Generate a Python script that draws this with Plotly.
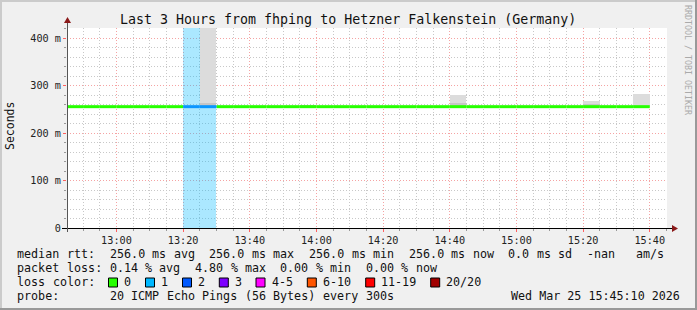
import re
import plotly.graph_objects as go
import pandas as pd

# ---------------- data ----------------
DAY = "2026-03-25 "
step_times = ["12:45", "12:50", "12:55", "13:00", "13:05", "13:10", "13:15",
              "13:20", "13:25", "13:30", "13:35", "13:40", "13:45", "13:50",
              "13:55", "14:00", "14:05", "14:10", "14:15", "14:20", "14:25",
              "14:30", "14:35", "14:40", "14:45", "14:50", "14:55", "15:00",
              "15:05", "15:10", "15:15", "15:20", "15:25", "15:30", "15:35"]
median_ms = [256.0, 256.0, 256.0, 256.0, 256.0, 256.0, 256.0,
             256.0, 256.0, 256.0, 256.0, 256.0, 256.0, 256.0,
             256.0, 256.0, 256.0, 256.0, 256.0, 256.0, 256.0,
             256.0, 256.0, 256.0, 256.0, 256.0, 256.0, 256.0,
             256.0, 256.0, 256.0, 256.0, 256.0, 256.0, 256.0]
loss_pings = [0, 0, 0, 0, 0, 0, 0,
              1, 1, 0, 0, 0, 0, 0,
              0, 0, 0, 0, 0, 0, 0,
              0, 0, 0, 0, 0, 0, 0,
              0, 0, 0, 0, 0, 0, 0]

# smoke (spread of pings) for steps that show any
smoke_times = ["13:25", "13:55", "14:40", "15:20", "15:35"]
smoke_low_ms = [256.0, 256.0, 256.0, 256.0, 256.0]
smoke_dark_top_ms = [264.0, 259.0, 264.5, 262.0, 256.0]
smoke_light_top_ms = [460.0, 259.0, 280.5, 268.0, 282.0]

y_tick_vals = [0.0, 0.1, 0.2, 0.3, 0.4]
y_tick_text = ["0", "100 m", "200 m", "300 m", "400 m"]
x_tick_times = ["13:00", "13:20", "13:40", "14:00", "14:20", "14:40", "15:00", "15:20", "15:40"]

loss_labels = ["0", "1", "2", "3", "4-5", "6-10", "11-19", "20/20"]
loss_bins_max = [0, 1, 2, 3, 5, 10, 19, 20]
loss_colors = ["#26ff00", "#00b8ff", "#0059ff", "#7e00ff", "#ff00ff", "#ff5500", "#ff0000", "#a10000"]
line_colors = ["#26ff00", "#0a96ff", "#0059ff", "#7e00ff", "#ff00ff", "#ff5500", "#ff0000", "#a10000"]

title_text = "Last 3 Hours from fhping to Hetzner Falkenstein (Germany)"
legend_lines = [
    "median rtt:  256.0 ms avg  256.0 ms max  256.0 ms min  256.0 ms now  0.0 ms sd  -nan   am/s",
    "packet loss: 0.14 % avg  4.80 % max  0.00 % min  0.00 % now",
]
loss_color_caption = "loss color:"
probe_text = "probe:       20 ICMP Echo Pings (56 Bytes) every 300s"
stamp_text = "Wed Mar 25 15:45:10 2026"
range_start = DAY + "12:45:10"
range_end = DAY + "15:45:10"
STEP = pd.Timedelta(seconds=300)

# ---------------- helpers ----------------
W, H = 697, 310
L, R, T, B = 67, 667, 28, 228


def px(x):
    return (x - L) / (R - L)


def py(y):
    return (B - y) / (B - T)


def nb(s):
    return s.replace(" ", "\u00a0")


MONO = "DejaVu Sans Mono"
LEG_SIZE = 11.7
LEG_X = 16.0
PITCH = 7.12
TXT = "#111111"

fig = go.Figure()

# loss background
loss_x = [pd.Timestamp(DAY + t) for t, n in zip(step_times, loss_pings) if n > 0]
loss_c = []
for n in loss_pings:
    if n > 0:
        idx = next(i for i, m in enumerate(loss_bins_max) if n <= m)
        loss_c.append(loss_colors[idx])
fig.add_trace(go.Bar(
    x=loss_x, y=[10.0] * len(loss_x), base=0, width=STEP.total_seconds() * 1000, offset=0,
    marker=dict(color=loss_c, opacity=0.33, line=dict(width=0)), hoverinfo="skip"))

# smoke
st = [pd.Timestamp(DAY + t) for t in smoke_times]
fig.add_trace(go.Bar(
    x=st, base=[v / 1000 for v in smoke_low_ms],
    y=[(h - lo) / 1000 for h, lo in zip(smoke_light_top_ms, smoke_low_ms)],
    width=STEP.total_seconds() * 1000, offset=0,
    marker=dict(color="#dcdcdc", line=dict(width=0)), hoverinfo="skip"))
fig.add_trace(go.Bar(
    x=st, base=[v / 1000 for v in smoke_low_ms],
    y=[(h - lo) / 1000 for h, lo in zip(smoke_dark_top_ms, smoke_low_ms)],
    width=STEP.total_seconds() * 1000, offset=0,
    marker=dict(color="#c6c6c6", line=dict(width=0)), hoverinfo="skip"))

# median line, coloured by loss
segs = {}
for t, m, n in zip(step_times, median_ms, loss_pings):
    idx = next(i for i, mm in enumerate(loss_bins_max) if n <= mm)
    t0 = pd.Timestamp(DAY + t)
    xs, ys = segs.setdefault(idx, ([], []))
    xs += [t0, t0 + STEP, None]
    ys += [m / 1000, m / 1000, None]
for idx, (xs, ys) in segs.items():
    fig.add_trace(go.Scatter(x=xs, y=ys, mode="lines",
                             line=dict(color=line_colors[idx], width=3),
                             hoverinfo="skip"))

grid_major = "#f5a3a3"
grid_minor = "#c8c8c8"
fig.update_xaxes(
    type="date", range=[range_start, range_end],
    tickvals=[DAY + t for t in x_tick_times], ticktext=x_tick_times,
    showgrid=True, gridcolor=grid_major, griddash="1px,2px", gridwidth=1,
    ticks="outside", ticklen=3, tickcolor="#ff6060", tickwidth=1,
    minor=dict(dtick=300000, tick0=DAY + "13:00", showgrid=True, gridcolor=grid_minor,
               griddash="1px,2px", ticks="outside", ticklen=2, tickcolor="#999999"),
    tickfont=dict(family=MONO, size=10.2, color="#222222"),
    showline=False, zeroline=False, fixedrange=True,
)
fig.update_yaxes(
    range=[0, 0.422], tickvals=y_tick_vals, ticktext=y_tick_text,
    showgrid=True, gridcolor=grid_major, griddash="1px,2px", gridwidth=1,
    ticks="outside", ticklen=3, tickcolor="#ff6060", tickwidth=1,
    minor=dict(dtick=0.02, tick0=0, showgrid=True, gridcolor=grid_minor,
               griddash="1px,2px", ticks="outside", ticklen=2, tickcolor="#999999"),
    tickfont=dict(family=MONO, size=10.2, color="#222222"),
    showline=False, zeroline=False, fixedrange=True,
)

shapes = []
# borders
shapes.append(dict(type="rect", xref="paper", yref="paper", x0=px(0), x1=px(W), y0=py(0), y1=py(2),
                   fillcolor="#cbcbcb", line=dict(width=0), layer="above"))
shapes.append(dict(type="rect", xref="paper", yref="paper", x0=px(0), x1=px(2), y0=py(0), y1=py(H),
                   fillcolor="#cbcbcb", line=dict(width=0), layer="above"))
shapes.append(dict(type="rect", xref="paper", yref="paper", x0=px(0), x1=px(W), y0=py(H - 2), y1=py(H),
                   fillcolor="#999999", line=dict(width=0), layer="above"))
shapes.append(dict(type="rect", xref="paper", yref="paper", x0=px(W - 2), x1=px(W), y0=py(0), y1=py(H),
                   fillcolor="#999999", line=dict(width=0), layer="above"))
# axes lines
shapes.append(dict(type="line", xref="paper", yref="paper", x0=px(62), x1=px(673), y0=py(228.5), y1=py(228.5),
                   line=dict(color="#000000", width=1), layer="above"))
shapes.append(dict(type="line", xref="paper", yref="paper", x0=px(67.5), x1=px(67.5), y0=py(232), y1=py(22),
                   line=dict(color="#555555", width=1), layer="above"))
# arrows
shapes.append(dict(type="path", xref="paper", yref="paper",
                   path=f"M {px(672)} {py(225)} L {px(678)} {py(228.5)} L {px(672)} {py(232)} Z",
                   fillcolor="#8b1a1a", line=dict(width=0), layer="above"))
shapes.append(dict(type="path", xref="paper", yref="paper",
                   path=f"M {px(64)} {py(23)} L {px(67.5)} {py(17)} L {px(71)} {py(23)} Z",
                   fillcolor="#8b1a1a", line=dict(width=0), layer="above"))

annotations = []


def add_text(text, x, y, anchor="left", size=LEG_SIZE, color=TXT, angle=0):
    annotations.append(dict(text=nb(text), x=px(x), y=py(y), xref="paper", yref="paper",
                            showarrow=False, xanchor=anchor, yanchor="middle", textangle=angle,
                            borderpad=0, font=dict(family=MONO, size=size, color=color)))


def add_mono_line(text, y):
    # place each word at its character-cell position to keep the fixed pitch
    for mt in re.finditer(r"\S+", text):
        add_text(mt.group(0), LEG_X + mt.start() * PITCH, y)


add_text(title_text, 348, 19, anchor="center", size=13.3)
add_text("Seconds", 10, 126, anchor="center", size=11.5, angle=-90)
add_text("RRDTOOL / TOBI OETIKER", 688, 60, anchor="center", size=8.3, color="#aaaaaa", angle=90)

legend_y = [254.3, 268.3, 282.3, 296.0]
for line, yy in zip(legend_lines, legend_y[:2]):
    add_mono_line(line, yy)
add_mono_line(loss_color_caption, legend_y[2])
box_x = [108.5, 145.5, 182.5, 219.3, 256.0, 307.3, 365.7, 430.7]
for bx, lab, col in zip(box_x, loss_labels, loss_colors):
    shapes.append(dict(type="rect", xref="paper", yref="paper", x0=px(bx), x1=px(bx + 9),
                       y0=py(278), y1=py(287), fillcolor=col,
                       line=dict(color="#000000", width=1), layer="above"))
    add_text(lab, bx + 14.5, legend_y[2])
add_mono_line(probe_text, legend_y[3])
add_text(stamp_text, 681, legend_y[3], anchor="right")

fig.update_layout(
    width=W, height=H, autosize=False,
    margin=dict(l=L, r=W - R, t=T, b=H - B, pad=0),
    paper_bgcolor="#f0f0f0", plot_bgcolor="#ffffff",
    barmode="overlay", bargap=0, showlegend=False,
    shapes=shapes, annotations=annotations,
)

fig.write_html("out.html", config={"displayModeBar": False})
